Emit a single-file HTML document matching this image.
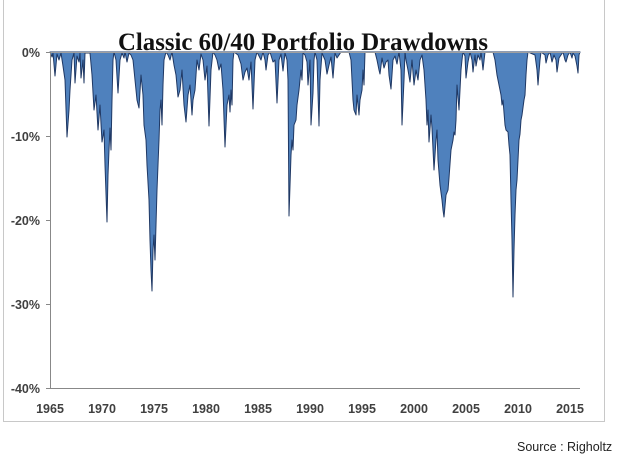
<!DOCTYPE html>
<html><head><style>
body{margin:0;background:#fff;width:628px;height:471px;overflow:hidden}
</style></head><body>
<svg width="628" height="471" xmlns="http://www.w3.org/2000/svg" font-family="Liberation Sans, sans-serif">
<rect x="0" y="0" width="628" height="471" fill="#fff"/>
<line x1="3.5" y1="0" x2="3.5" y2="422" stroke="#c8c8c8"/>
<line x1="604.5" y1="0" x2="604.5" y2="422" stroke="#c8c8c8"/>
<line x1="3" y1="421.5" x2="605" y2="421.5" stroke="#c8c8c8"/>
<path fill="#4f81bd" stroke="#1f3864" stroke-width="1" stroke-linejoin="round" d="
M50,52 L52,57 L53,53 L55,76 L57,54 L59,60 L61,53 L63,66 L65,80 L67,137 L69,110 L70,90 L72,60 L74,53 L75,83 L77,56 L79,62 L80,53 L81,78 L83,60 L84,83 L85,53
L90,53 L92,75 L94,110 L96,95 L98,130 L100,105 L102,142 L104,130 L105,165 L107,222 L108,175 L109,150 L110,128 L111,150 L112,100 L113,60 L114,52
L116,60 L118,93 L120,60 L122,53 L124,58 L125,52 L127,62 L129,53 L131,55 L133,60
L135,80 L137,100 L139,108 L141,75 L143,95 L144,125 L146,140 L147,165 L149,200 L150,240 L151,270 L152,291 L153,250 L154,235 L155,260 L157,190 L159,140 L160,110 L161,100 L162,125 L163,85 L164,60 L166,52
L168,55 L170,60 L172,52 L174,65 L176,75 L178,97 L180,90 L182,70 L184,105 L186,122 L188,95 L190,85 L192,115 L193,100 L195,90 L197,60 L199,70 L201,54 L203,60 L205,80 L207,66 L209,126 L211,70 L213,52
L215,55 L217,60 L219,70 L221,64 L223,90 L225,147 L227,105 L229,95 L230,112 L231,90 L232,105 L233,60 L234,52
L238,55 L241,64 L243,80 L245,72 L247,68 L249,80 L251,62 L253,109 L255,60 L257,52 L261,60 L263,52 L265,60 L266,70 L268,55 L270,52 L273,62 L275,60 L277,103 L279,60 L281,54 L283,71 L285,53
L287,60 L288,80 L289,216 L291,155 L292,140 L293,150 L294,125 L296,120 L297,105 L299,90 L301,70 L302,80 L303,53
L305,55 L307,62 L308,85 L310,60 L311,125 L313,93 L314,60 L315,52 L317,60 L319,126 L320,80 L322,53 L325,60 L327,74 L329,65 L331,57 L333,78 L335,53 L337,58 L339,55 L341,52
L349,52 L351,60 L353,100 L354,110 L356,115 L357,95 L359,115 L360,100 L362,90 L363,70 L364,85 L365,52
L375,52 L377,60 L379,70 L380,74 L382,58 L384,68 L386,62 L388,60 L389,75 L391,89 L393,60 L395,56 L397,64 L399,52 L401,70 L402,125 L404,80 L405,52
L406,60 L408,70 L410,82 L412,60 L414,85 L416,70 L418,80 L420,60 L422,55
L424,70 L426,100 L427,125 L428,110 L429,142 L431,115 L432,128 L434,170 L436,140 L437,130 L438,160 L440,185 L442,200 L443,210 L444,217 L446,195 L448,190 L449,178 L451,150 L453,140 L454,132 L455,135 L456,120 L457,85 L459,110 L461,70 L462,60 L463,52
L465,56 L466,78 L468,62 L470,52 L472,60 L473,72 L475,55 L476,66 L478,55 L480,60 L481,52 L483,70 L485,52
L493,52 L495,60 L497,75 L499,85 L501,95 L502,105 L503,100 L505,125 L506,130 L508,132 L509,145 L510,155 L511,200 L512,240 L513,297 L514,250 L515,215 L516,190 L517,180 L519,140 L520,134 L521,120 L522,115 L524,100 L525,95 L526,75 L527,60 L528,52
L535,55 L537,70 L538,85 L540,60 L541,52 L545,55 L546,63 L548,55 L550,52 L552,62 L554,55 L556,60 L557,72 L559,58 L561,55 L563,52 L565,60 L566,62 L568,55 L570,52 L572,58 L573,53 L575,56 L577,66 L578,73 L579,55 L580,52 Z"/>
<line x1="50" y1="52.5" x2="580" y2="52.5" stroke="#a0a0a0" stroke-width="1"/>
<line x1="50.5" y1="52" x2="50.5" y2="389" stroke="#888" stroke-width="1"/>
<line x1="50" y1="388.5" x2="580" y2="388.5" stroke="#888" stroke-width="1"/>
<g stroke="#888">
<line x1="46" y1="52.5" x2="50" y2="52.5"/><line x1="46" y1="136.5" x2="50" y2="136.5"/><line x1="46" y1="220.5" x2="50" y2="220.5"/><line x1="46" y1="304.5" x2="50" y2="304.5"/><line x1="46" y1="388.5" x2="50" y2="388.5"/>
</g>
<g font-size="12.5" font-weight="bold" fill="#404040" text-anchor="end">
<text x="40" y="57">0%</text><text x="40" y="141">-10%</text><text x="40" y="225">-20%</text><text x="40" y="309">-30%</text><text x="40" y="393">-40%</text>
</g>
<g font-size="12.5" font-weight="bold" fill="#404040" text-anchor="middle">
<text x="50" y="413">1965</text><text x="102" y="413">1970</text><text x="154" y="413">1975</text><text x="206" y="413">1980</text><text x="258" y="413">1985</text><text x="310" y="413">1990</text><text x="362" y="413">1995</text><text x="414" y="413">2000</text><text x="466" y="413">2005</text><text x="518" y="413">2010</text><text x="570" y="413">2015</text>
</g>
<text x="303" y="50" text-anchor="middle" font-family="Liberation Serif, serif" font-weight="bold" font-size="25" fill="#111" textLength="370" lengthAdjust="spacingAndGlyphs">Classic 60/40 Portfolio Drawdowns</text>
<text x="517" y="451" font-size="12.5" fill="#222">Source : Righoltz</text>
</svg>
</body></html>
